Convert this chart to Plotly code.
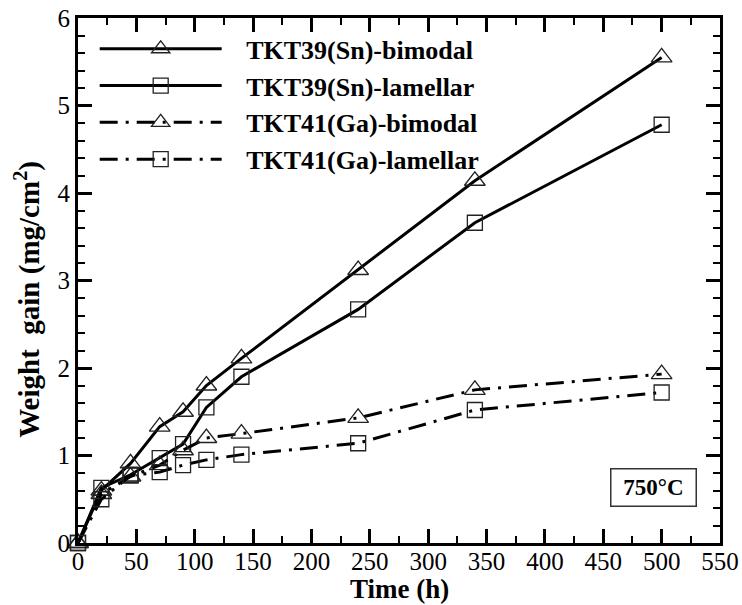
import plotly.graph_objects as go

time_h = [0, 20, 45, 70, 90, 110, 140, 240, 340, 500]
sn_bimodal = [0.0, 0.60, 0.91, 1.33, 1.50, 1.80, 2.11, 3.12, 4.14, 5.55]
sn_lamellar = [0.0, 0.63, 0.78, 0.97, 1.13, 1.55, 1.90, 2.67, 3.66, 4.78]
ga_bimodal = [0.0, 0.56, 0.76, 0.89, 1.06, 1.20, 1.25, 1.43, 1.75, 1.93]
ga_lamellar = [0.0, 0.50, 0.77, 0.81, 0.89, 0.95, 1.01, 1.14, 1.52, 1.72]

names = ["TKT39(Sn)-bimodal", "TKT39(Sn)-lamellar", "TKT41(Ga)-bimodal", "TKT41(Ga)-lamellar"]
series = [sn_bimodal, sn_lamellar, ga_bimodal, ga_lamellar]
symbols = ["triangle-up-open", "square-open", "triangle-up-open", "square-open"]
sizes = [18, 15, 18, 15]
dashes = ["solid", "solid", "18px,8px,3px,8px", "18px,8px,3px,8px"]

FONT = "Times New Roman, Liberation Serif, Tinos, DejaVu Serif, Noto Serif"

fig = go.Figure()
for n, s, sym, sz, d in zip(names, series, symbols, sizes, dashes):
    fig.add_trace(go.Scatter(
        x=time_h, y=s, name="\u00a0\u00a0\u00a0" + n, mode="lines+markers",
        line=dict(color="black", width=3, dash=d),
        marker=dict(symbol=sym, size=sz, color="#222222", line=dict(width=1.3, color="#222222")),
        cliponaxis=False,
    ))

axis_common = dict(
    showline=True, linewidth=3, linecolor="black", mirror="allticks",
    ticks="inside", ticklen=14, tickwidth=2.5, tickcolor="black",
    showgrid=False, zeroline=False, automargin=False,
    tickfont=dict(family=FONT, size=25, color="black"),
)

fig.update_layout(
    width=742, height=605, autosize=False,
    margin=dict(l=78, r=22, t=18, b=62),
    plot_bgcolor="white", paper_bgcolor="white",
    font=dict(family=FONT, color="black"),
    xaxis=dict(range=[0, 550], tick0=0, dtick=50, ticklabelstandoff=-6,
               minor=dict(dtick=25, ticks="inside", ticklen=7, tickwidth=1.5, tickcolor="black"),
               **axis_common),
    yaxis=dict(range=[0, 6], tick0=0, dtick=1,
               minor=dict(dtick=0.2, ticks="inside", ticklen=7, tickwidth=1.5, tickcolor="black"),
               **axis_common),
    legend=dict(x=0.026, y=0.986, xanchor="left", yanchor="top",
                bgcolor="rgba(0,0,0,0)", itemwidth=122,
                font=dict(family=FONT, size=26, weight="bold"),
                tracegroupgap=0),
    showlegend=True,
)

fig.add_annotation(
    x=0.5, y=-0.087, xref="paper", yref="paper", xanchor="center", yanchor="middle",
    text="<b>Time (h)</b>", showarrow=False,
    font=dict(family=FONT, size=27, color="black"),
)
fig.add_annotation(
    x=-0.078, y=0.465, xref="paper", yref="paper", xanchor="center", yanchor="middle",
    textangle=-90,
    text="<b>Weight  gain (mg/cm<sup>2</sup>)</b>", showarrow=False,
    font=dict(family=FONT, size=29, color="black"),
)
fig.add_annotation(
    x=493, y=0.64, xref="x", yref="y", text="<b>750°C</b>", showarrow=False,
    font=dict(family=FONT, size=23, color="black"),
    bordercolor="#333333", borderwidth=1.5, borderpad=3, width=78, height=30,
    bgcolor="white",
)

fig.write_html("out.html")
